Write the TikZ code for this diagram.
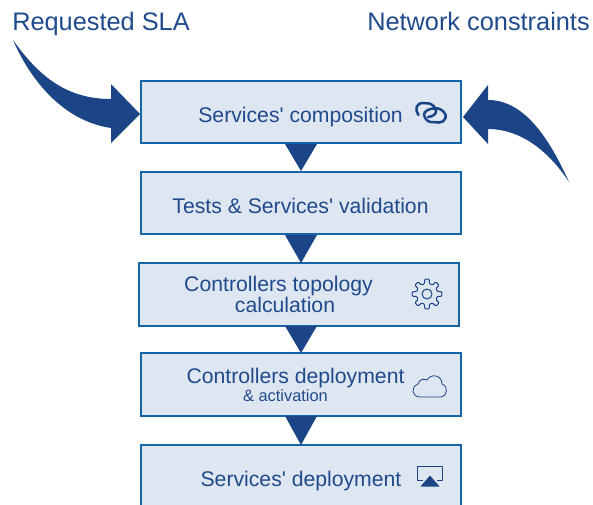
\documentclass[tikz,border=0pt]{standalone}
\usepackage{fontspec}
\setmainfont{Liberation Sans}[Ligatures=TeXOff]
\definecolor{txt}{HTML}{1F4A8C}
\definecolor{dark}{HTML}{1B4587}
\definecolor{edge}{HTML}{1565A8}
\definecolor{boxf}{HTML}{DEE6F1}
\tikzset{
 stage/.style={draw=edge,fill=boxf,line width=1.5pt,minimum width=240pt,minimum height=47pt,inner sep=0pt,outer sep=0pt},
 lab/.style={text=txt,font=\fontsize{15.9}{19}\selectfont,inner sep=0pt,anchor=base},
 title/.style={text=txt,font=\fontsize{19}{22}\selectfont,inner sep=0pt,anchor=base west},
 flow/.style={fill=dark,draw=none},
 icon/.style={draw=dark,line width=0.75pt,line join=round},
}
\begin{document}
\begin{tikzpicture}[x=0.75pt,y=-0.75pt]
\useasboundingbox (0,0) rectangle (593,504);
\clip (0,0) rectangle (593,504);
\node[stage] (s1) at (301,112) {};
\node[stage] (s2) at (301,203) {};
\node[stage] (s3) at (298.5,294.5) {};
\node[stage] (s4) at (301,384.5) {};
\node[stage,minimum height=64pt] (s5) at (301,488) {};
% connectors
\coordinate (t1) at (301,144);\coordinate (h1) at (301,171);
\coordinate (t2) at (301,235);\coordinate (h2) at (301,263);
\coordinate (t3) at (301,326);\coordinate (h3) at (301,353);
\coordinate (t4) at (301,416);\coordinate (h4) at (301,445);
\foreach \a/\b in {t1/h1,t2/h2,t3/h3,t4/h4}{
 \fill[flow] ([xshift=-12pt]\a) -- ([xshift=12pt]\a) -- (\b) -- cycle;
}
% labels
\node[lab] (l1) at (300.5,122) {Services' composition};
\node[lab] (l2) at (300.5,213) {Tests \& Services' validation};
\node[lab] (l3) at (278.5,291) {Controllers topology};
\node[lab] (l3b) at (285,312) {calculation};
\node[lab] (l4) at (295.5,383) {Controllers deployment};
\node[text=txt,font=\fontsize{12.3}{14}\selectfont,inner sep=0pt,anchor=base] (l4b) at (285.5,401) {\& activation};
\node[lab] (l5) at (301,486) {Services' deployment};
\node[title] (ta) at (12,30.5) {Requested SLA};
\node[title] (tb) at (367,30) {Network constraints};
% big arrows
\coordinate (a1) at (140,114);
\coordinate (a2) at (463,117);
\fill[flow] (13,40) .. controls (40,78) and (68,99) .. (111,99) -- (111,84) -- (a1) -- (111,143) -- (111,128) .. controls (70,122) and (35,90) .. cycle;
\fill[flow] (569,182) .. controls (550,140) and (525,100) .. (488,100) -- (488,85) -- (a2) -- (488,144) -- (488,129) .. controls (520,129) and (548,150) .. cycle;
% link icon
\draw[draw=dark,line width=1.9pt,line cap=round] (428,117) .. controls (433,116.5) and (436,114) .. (436,111.5) .. controls (436,107) and (432,104) .. (429,103.5) -- (423,103) .. controls (416,103) and (414.5,110) .. (418.5,115);
\draw[draw=dark,line width=1.9pt,line cap=round] (424,115) .. controls (424,111) and (429,109) .. (433,108.5) -- (438,108.5) .. controls (442,109) and (447,114) .. (445.5,118) .. controls (444.5,121) and (442,122.5) .. (439,122.5) -- (431,122) .. controls (428,122) and (425,119) .. (424,115);
% gear
\coordinate (g) at (427,294);
\draw[icon,rounded corners=0.8pt] ([shift={(-13:10.5)}]g)
 \foreach \i in {0,45,...,315}{
  -- ([shift={(\i-9:15)}]g) -- ([shift={(\i+9:15)}]g) -- ([shift={(\i+13:10.5)}]g) -- ([shift={(\i+32:10.5)}]g)
 } -- cycle;
\draw[icon] (g) circle[radius=5];
% cloud
\draw[icon,line width=0.6pt] (420,397) .. controls (412,397) and (410,387) .. (418,384) .. controls (420,378) and (425,379) .. (427,380) .. controls (431,373) and (442,375) .. (442,384) .. controls (449,386) and (447,397) .. (441,397) -- cycle;
% airplay
\draw[icon] (423,480) -- (417,480) -- (417,466) -- (442,466) -- (442,480) -- (437,480);
\fill[flow] (420.5,486.5) -- (430,475.5) -- (439.5,486.5) -- cycle;
\end{tikzpicture}
\end{document}
